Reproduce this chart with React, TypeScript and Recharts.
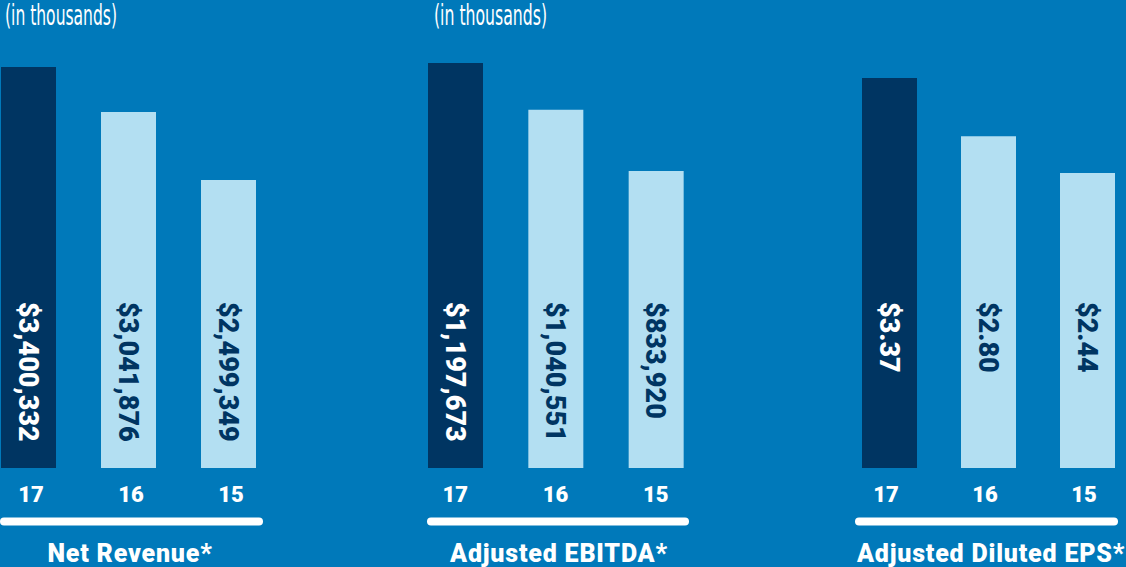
import React from 'react';
import { BarChart, Bar, XAxis, YAxis, Cell, LabelList } from 'recharts';

const years = ['17', '16', '15'];
const netRevenue = [3400332, 3041876, 2499349];
const adjustedEbitda = [1197673, 1040551, 833920];
const adjustedEps = [3.37, 2.8, 2.44];
const titles = ['Net Revenue*', 'Adjusted EBITDA*', 'Adjusted Diluted EPS*'];
const unitNote = '(in thousands)';

const BG = '#0079BA';
const DARK = '#003562';
const LIGHT = '#B3DFF2';
const FONT = 'Roboto, "Open Sans", sans-serif';
const NARROW = '"Liberation Sans Narrow", "DejaVu Sans Condensed", sans-serif';

const money = (v: number) => '$' + v.toLocaleString('en-US');
const perShare = (v: number) => '$' + v.toFixed(2);

const panels = [
  { values: netRevenue, title: titles[0], fmt: money, left: -22, width: 300, domain: [203000, 3456000], tickDx: 3, note: true },
  { values: adjustedEbitda, title: titles[1], fmt: money, left: 405, width: 301, domain: [-166400, 1207800], tickDx: 0, note: true },
  { values: adjustedEps, title: titles[2], fmt: perShare, left: 840, width: 297, domain: [-0.448, 3.546], tickDx: -3.5, note: false },
];

const Panel = ({ panel }: { panel: (typeof panels)[number] }) => {
  const data = years.map((year, i) => ({ year, value: panel.values[i] }));
  const lo = panel.domain[0];

  const renderLabel = (props: any) => {
    const { x, y, width, height, value, index } = props;
    const cx = x + width / 2;
    const bottom = Math.max(y, y + height);
    const ty = bottom - 166;
    return (
      <text
        x={cx}
        y={ty}
        dy="0.36em"
        transform={`rotate(90 ${cx} ${ty})`}
        textAnchor="start"
        fill={index === 0 ? '#ffffff' : DARK}
        fontSize={27}
        fontWeight={900}
        fontFamily={FONT}
      >
        {panel.fmt(Number(value))}
      </text>
    );
  };

  const renderTick = (props: any) => {
    const { x, y, payload } = props;
    return (
      <text x={x + panel.tickDx} y={y + 34} textAnchor="middle" fill="#fff" fontSize={22} fontWeight={900} fontFamily={FONT}>
        {payload.value}
      </text>
    );
  };

  return (
    <div style={{ position: 'absolute', left: panel.left, top: 0 }}>
      <BarChart width={panel.width} height={567} data={data} margin={{ top: 60, right: 0, bottom: 0, left: 0 }}>
        <XAxis dataKey="year" height={99} axisLine={false} tickLine={false} tickSize={0} tickMargin={0} interval={0} tick={renderTick} />
        <YAxis hide type="number" domain={panel.domain} allowDataOverflow />
        <Bar dataKey={(d: any) => [lo, d.value]} barSize={55} isAnimationActive={false}>
          {data.map((d, i) => (
            <Cell key={d.year} fill={i === 0 ? DARK : LIGHT} />
          ))}
          <LabelList dataKey="value" content={renderLabel} />
        </Bar>
      </BarChart>
    </div>
  );
};

export default function App() {
  return (
    <div style={{ position: 'absolute', left: 0, top: 0, width: 1126, height: 567, overflow: 'hidden', background: BG }}>
      {panels.map((p) => (
        <Panel key={p.title} panel={p} />
      ))}
      <svg width={1126} height={567} style={{ position: 'absolute', left: 0, top: 0, pointerEvents: 'none' }}>
        <text x={5} y={25} fill="#fff" fontSize={28} fontFamily={NARROW} textLength={112} lengthAdjust="spacingAndGlyphs">
          {unitNote}
        </text>
        <text x={434} y={25} fill="#fff" fontSize={28} fontFamily={NARROW} textLength={113} lengthAdjust="spacingAndGlyphs">
          {unitNote}
        </text>
        <rect x={0} y={517.5} width={263} height={8} rx={4} fill="#fff" />
        <rect x={427} y={517.5} width={262} height={8} rx={4} fill="#fff" />
        <rect x={855} y={517.5} width={263} height={8} rx={4} fill="#fff" />
        <text x={130} y={561.5} textAnchor="middle" fill="#fff" fontSize={25} fontWeight={900} letterSpacing={0.8} fontFamily={FONT}>
          {titles[0]}
        </text>
        <text x={559} y={561.5} textAnchor="middle" fill="#fff" fontSize={25} fontWeight={900} letterSpacing={0.8} fontFamily={FONT}>
          {titles[1]}
        </text>
        <text x={857} y={561.5} textAnchor="start" fill="#fff" fontSize={25} fontWeight={900} letterSpacing={0.8} fontFamily={FONT}>
          {titles[2]}
        </text>
      </svg>
    </div>
  );
}
